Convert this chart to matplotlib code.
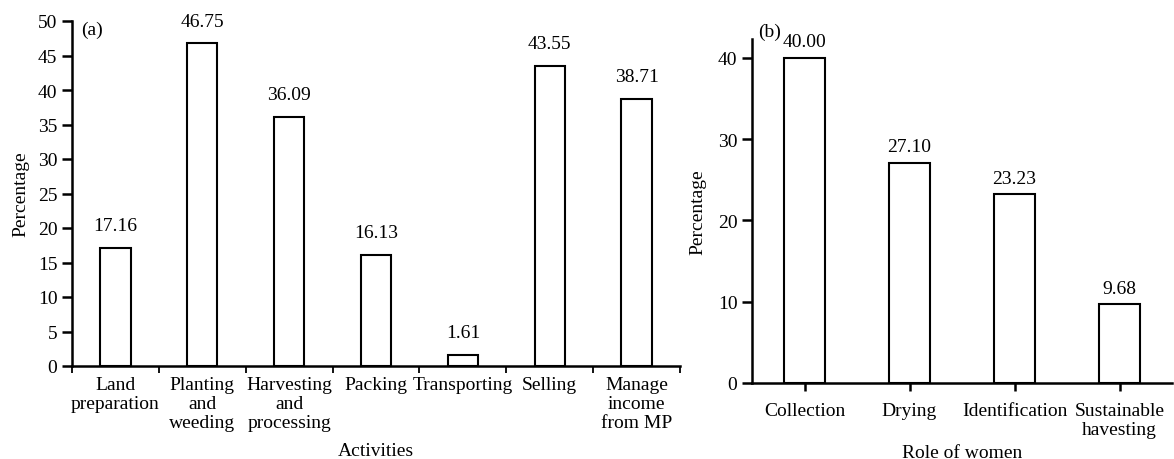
import matplotlib
matplotlib.use("Agg")
import matplotlib.pyplot as plt
import numpy as np

plt.rcParams['font.family'] = ['Liberation Serif', 'DejaVu Serif']
plt.rcParams['font.size'] = 14

# panel (a): activities
act_labels = ["Land\npreparation", "Planting\nand\nweeding", "Harvesting\nand\nprocessing",
              "Packing", "Transporting", "Selling", "Manage\nincome\nfrom MP"]
act_values = [17.16, 46.75, 36.09, 16.13, 1.61, 43.55, 38.71]

# panel (b): role of women
role_labels = ["Collection", "Drying", "Identification", "Sustainable\nhavesting"]
role_values = [40.00, 27.10, 23.23, 9.68]

W, H = 1174, 460
FS = 14
fig = plt.figure(figsize=(W / 100, H / 100), dpi=100)


def style(ax):
    for s in ["top", "right"]:
        ax.spines[s].set_visible(False)
    for s in ["left", "bottom"]:
        ax.spines[s].set_linewidth(1.8)
    ax.tick_params(axis="both", direction="out", width=1.8, length=6, labelsize=FS)


# ---- (a) ----
ax1 = fig.add_axes([72 / W, 1 - 367 / H, (680 - 72) / W, (367 - 22) / H])
x = np.arange(len(act_values))
ax1.bar(x, act_values, width=0.35, facecolor="white", edgecolor="black", linewidth=1.5)
for xi, v in zip(x, act_values):
    ax1.annotate(f"{v:.2f}", (xi, v), xytext=(0, 22), textcoords="offset pixels",
                 ha="center", va="center", fontsize=FS)
ax1.set_xlim(-0.5, len(act_values) - 0.5)
ax1.set_ylim(0, 50)
ax1.set_yticks(range(0, 51, 5))
ax1.set_xticks(np.arange(-0.5, len(act_values), 1.0))
ax1.set_xticklabels([])
ax1.set_xticks(x, minor=True)
ax1.set_xticklabels(act_labels, minor=True, linespacing=1.15, va="top")
ax1.tick_params(axis="x", which="minor", length=0, pad=7, labelsize=FS)
style(ax1)
ax1.tick_params(axis="y", length=7)
ax1.tick_params(axis="x", which="major", length=5, width=1.3)
ax1.set_ylabel("Percentage", fontsize=FS, labelpad=6)
ax1.set_xlabel("Activities", fontsize=FS, labelpad=8)
ax1.text(0.015, 1.0, "(a)", transform=ax1.transAxes, ha="left", va="top", fontsize=FS)

# ---- (b) ----
ax2 = fig.add_axes([752 / W, 1 - 384 / H, (1172 - 752) / W, (384 - 40) / H])
xb = np.arange(len(role_values))
ax2.bar(xb, role_values, width=0.39, facecolor="white", edgecolor="black", linewidth=1.5)
for xi, v in zip(xb, role_values):
    ax2.annotate(f"{v:.2f}", (xi, v), xytext=(0, 16), textcoords="offset pixels",
                 ha="center", va="center", fontsize=FS)
ax2.set_xlim(-0.5, len(role_values) - 0.5)
ax2.set_ylim(0, 42.3)
ax2.set_yticks(range(0, 41, 10))
ax2.set_xticks(xb)
ax2.set_xticklabels(role_labels, linespacing=1.15)
style(ax2)
ax2.tick_params(axis="y", length=7)
ax2.tick_params(axis="x", length=6, pad=8)
ax2.set_ylabel("Percentage", fontsize=FS, labelpad=8)
ax2.set_xlabel("Role of women", fontsize=FS, labelpad=4)
ax2.annotate("(b)", (0, 1), xycoords="axes fraction", xytext=(6, 8), textcoords="offset pixels",
             ha="left", va="center", fontsize=FS)

fig.savefig("out.png", dpi=100)
